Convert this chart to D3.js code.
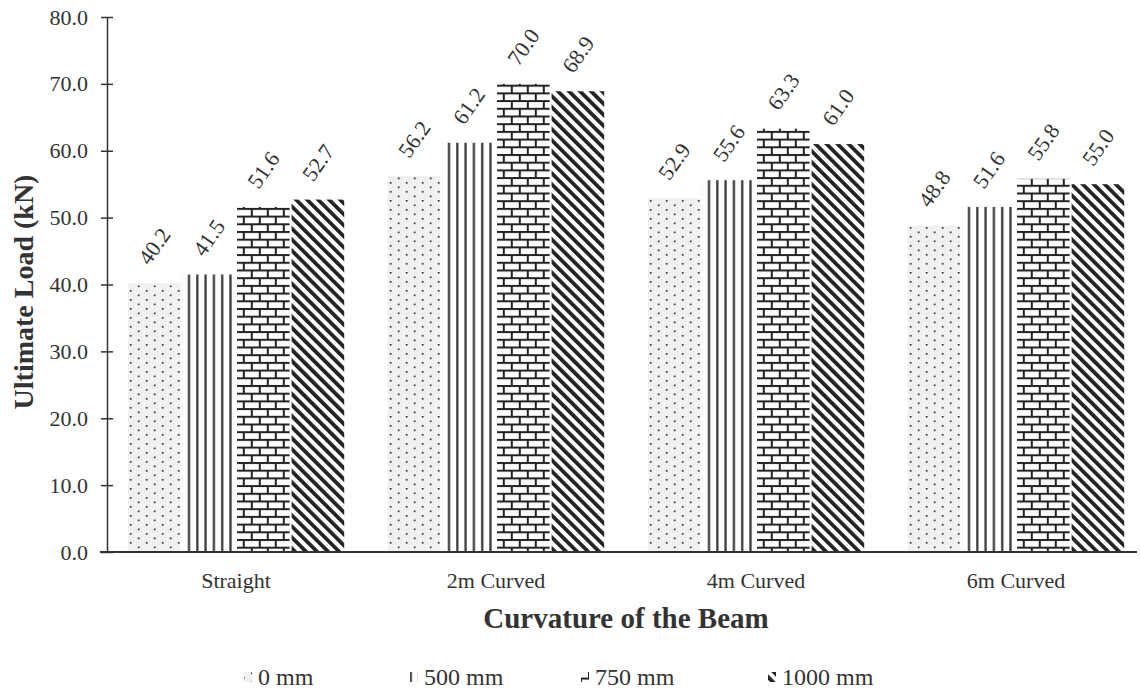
<!DOCTYPE html>
<html><head><meta charset="utf-8">
<script src="https://cdn.jsdelivr.net/npm/d3@7"></script>
<style>
body{margin:0;background:#fff;}
svg{display:block;font-family:"Liberation Serif","Times New Roman",serif;}
</style></head>
<body>
<svg id="chart" width="1140" height="691"></svg>
<script>
const categories = ["Straight","2m Curved","4m Curved","6m Curved"];
const seriesNames = ["0 mm","500 mm","750 mm","1000 mm"];
const vals0 = [40.2,56.2,52.9,48.8];
const vals500 = [41.5,61.2,55.6,51.6];
const vals750 = [51.6,70.0,63.3,55.8];
const vals1000 = [52.7,68.9,61.0,55.0];
const yTicks = [0,10,20,30,40,50,60,70,80];

const seriesValues = [vals0, vals500, vals750, vals1000];
const svg = d3.select("#chart");
const defs = svg.append("defs");

// patterns
const pDots = defs.append("pattern").attr("id","p0").attr("patternUnits","userSpaceOnUse")
  .attr("width",16).attr("height",9);
pDots.append("rect").attr("width",16).attr("height",9).attr("fill","#f1f1f1");
pDots.append("rect").attr("x",3).attr("y",2).attr("width",1.7).attr("height",1.7).attr("fill","#333");
pDots.append("rect").attr("x",11).attr("y",6.5).attr("width",1.7).attr("height",1.7).attr("fill","#333");

const pV = defs.append("pattern").attr("id","p1").attr("patternUnits","userSpaceOnUse")
  .attr("width",8.3).attr("height",10);
pV.append("rect").attr("width",8.3).attr("height",10).attr("fill","#fff");
pV.append("rect").attr("x",3).attr("y",0).attr("width",2.2).attr("height",10).attr("fill","#333");

const pB = defs.append("pattern").attr("id","p2").attr("patternUnits","userSpaceOnUse")
  .attr("width",16).attr("height",15.4);
pB.append("rect").attr("width",16).attr("height",15.4).attr("fill","#fff");
pB.append("rect").attr("x",0).attr("y",0).attr("width",16).attr("height",2).attr("fill","#222");
pB.append("rect").attr("x",0).attr("y",7.7).attr("width",16).attr("height",2).attr("fill","#222");
pB.append("rect").attr("x",4).attr("y",0).attr("width",2).attr("height",7.7).attr("fill","#222");
pB.append("rect").attr("x",12).attr("y",7.7).attr("width",2).attr("height",7.7).attr("fill","#222");

const pD = defs.append("pattern").attr("id","p3").attr("patternUnits","userSpaceOnUse")
  .attr("width",7.8).attr("height",10).attr("patternTransform","rotate(-45)");
pD.append("rect").attr("width",7.8).attr("height",10).attr("fill","#fff");
pD.append("rect").attr("x",0).attr("y",0).attr("width",3.8).attr("height",10).attr("fill","#222");

const fills = ["url(#p0)","url(#p1)","url(#p2)","url(#p3)"];

const x0 = d3.scaleBand().domain(categories).range([106,1146]).paddingInner(0.16).paddingOuter(0.08);
const x1 = d3.scaleBand().domain(seriesNames).range([0,x0.bandwidth()]).padding(0);
const y = d3.scaleLinear().domain([0,80]).range([552,17]);

// bars
const groups = svg.append("g").selectAll("g").data(categories).join("g")
  .attr("transform", c => `translate(${x0(c)},0)`);
groups.each(function(c, ci){
  const g = d3.select(this);
  seriesNames.forEach((s, si) => {
    const v = seriesValues[si][ci];
    g.append("rect").attr("x", x1(s)+1).attr("width", x1.bandwidth()-2)
      .attr("y", y(v)).attr("height", y(0)-y(v)).attr("fill", fills[si]);
    g.append("text")
      .attr("transform", `translate(${x1(s)+x1.bandwidth()/2},${y(v)-37}) rotate(-55)`)
      .attr("text-anchor","middle").attr("dy","0.35em")
      .attr("font-size",22).attr("fill","#333").text(v.toFixed(1));
  });
});

// y axis
const yAxis = d3.axisLeft(y).tickValues(yTicks).tickFormat(d3.format(".1f")).tickSize(0).tickPadding(19);
const ya = svg.append("g").attr("transform","translate(107,0)").call(yAxis);
ya.select(".domain").attr("stroke","#333").attr("stroke-width",1.5);
ya.selectAll(".tick text").attr("font-size",22).attr("fill","#333").attr("font-family","Liberation Serif");
ya.selectAll(".tick").append("line").attr("x1",-6).attr("x2",6).attr("stroke","#333").attr("stroke-width",1.5);

// x axis
svg.append("line").attr("x1",100).attr("x2",1137).attr("y1",y(0)).attr("y2",y(0))
  .attr("stroke","#333").attr("stroke-width",2);
const xAxis = d3.axisBottom(x0).tickSize(0).tickPadding(20);
const xa = svg.append("g").attr("transform",`translate(0,${y(0)})`).call(xAxis);
xa.select(".domain").remove();
xa.selectAll(".tick text").attr("font-size",22).attr("fill","#333").attr("font-family","Liberation Serif");

// axis titles
svg.append("text").attr("x",626).attr("y",628).attr("text-anchor","middle")
  .attr("font-size",29).attr("font-weight","bold").attr("fill","#333").text("Curvature of the Beam");
svg.append("text").attr("transform","translate(33,292) rotate(-90)").attr("text-anchor","middle")
  .attr("font-size",28).attr("font-weight","bold").attr("fill","#333").text("Ultimate Load (kN)");

// legend
const legX = [258, 424, 595, 782];
seriesNames.forEach((s, i) => {
  svg.append("rect").attr("x",legX[i]-14).attr("y",672).attr("width",8).attr("height",10).attr("fill",fills[i]);
  svg.append("text").attr("x",legX[i]).attr("y",677).attr("dy","0.35em")
    .attr("font-size",24).attr("fill","#333").text(s);
});
</script>
</body></html>
